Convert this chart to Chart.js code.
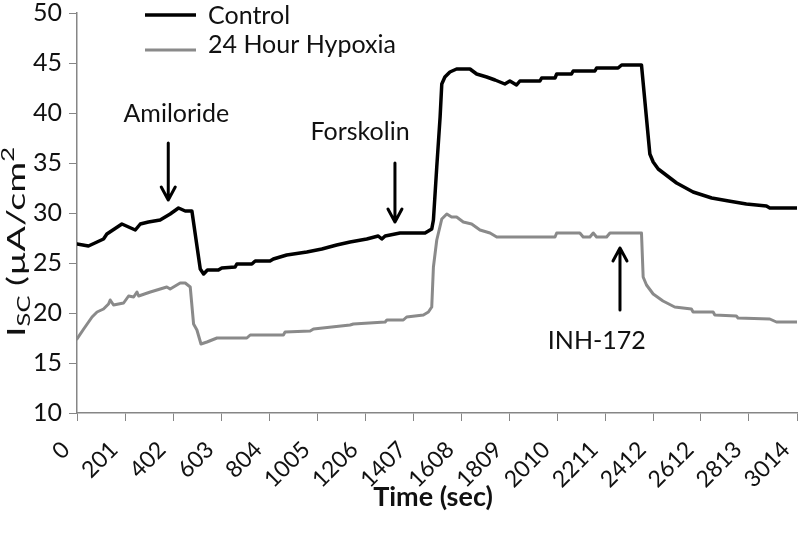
<!DOCTYPE html>
<html>
<head>
<meta charset="utf-8">
<script src="https://cdn.jsdelivr.net/npm/chart.js@4/dist/chart.umd.min.js"></script>
<style>
  html, body { margin: 0; padding: 0; background: #fff; }
  #chart { display: block; }
</style>
</head>
<body>
<canvas id="chart" width="800" height="547"></canvas>
<script>
// values
const xTickLabels = [0, 201, 402, 603, 804, 1005, 1206, 1407, 1608, 1809, 2010, 2211, 2412, 2612, 2813, 3014];

const controlTime = [0, 48, 111, 125, 188, 244, 265, 299, 348, 390, 425, 453, 481, 516, 530, 546, 592, 606, 662, 669,
  732, 746, 808, 822, 878, 962, 1025, 1087, 1143, 1213, 1261, 1276, 1290, 1352, 1457, 1485, 1492, 1506, 1520, 1527,
  1540, 1561, 1589, 1645, 1673, 1715, 1750, 1791, 1812, 1840, 1854, 1938, 1945, 2001, 2008, 2070, 2077, 2168, 2175,
  2265, 2280, 2363, 2398, 2412, 2433, 2510, 2579, 2657, 2728, 2802, 2886, 2900, 3014];
const controlValues = [26.9, 26.7, 27.4, 27.9, 28.9, 28.3, 28.9, 29.1, 29.3, 29.9, 30.5, 30.2, 30.2, 24.4, 23.9, 24.3, 24.3, 24.5, 24.6, 24.9,
  24.9, 25.2, 25.2, 25.4, 25.8, 26.1, 26.4, 26.8, 27.1, 27.4, 27.7, 27.4, 27.7, 28.0, 28.0, 28.4, 29.3, 34.6, 39.6, 42.9,
  43.6, 44.1, 44.4, 44.4, 43.9, 43.6, 43.3, 42.9, 43.2, 42.8, 43.2, 43.2, 43.5, 43.5, 43.9, 43.9, 44.2, 44.2, 44.5,
  44.5, 44.8, 44.8, 35.9, 35.1, 34.4, 33.0, 32.1, 31.5, 31.2, 30.9, 30.7, 30.5, 30.5];

const hypoxiaTime = [0, 28, 63, 84, 111, 132, 139, 153, 195, 216, 237, 251, 258, 307, 376, 390, 432, 453, 474, 488,
  502, 519, 544, 586, 711, 725, 864, 871, 976, 990, 1143, 1157, 1290, 1297, 1366, 1380, 1450, 1471, 1485, 1492,
  1506, 1527, 1548, 1568, 1589, 1617, 1652, 1687, 1729, 1757, 2001, 2008, 2105, 2119, 2147, 2161, 2175, 2217, 2231,
  2363, 2370, 2384, 2412, 2453, 2502, 2572, 2579, 2663, 2670, 2760, 2767, 2900, 2928, 3014];
const hypoxiaValues = [17.4, 18.4, 19.6, 20.1, 20.4, 20.9, 21.3, 20.8, 21.0, 21.7, 21.6, 22.1, 21.7, 22.1, 22.6, 22.4, 23.0, 23.0, 22.6, 18.9,
  18.3, 16.9, 17.1, 17.5, 17.5, 17.8, 17.8, 18.1, 18.2, 18.4, 18.8, 18.9, 19.1, 19.3, 19.3, 19.6, 19.8, 20.1, 20.6, 24.6,
  27.3, 29.4, 29.9, 29.6, 29.6, 29.1, 28.9, 28.3, 28.0, 27.6, 27.6, 28.0, 28.0, 27.6, 27.6, 28.0, 27.6, 27.6, 28.0,
  28.0, 23.6, 22.8, 21.9, 21.2, 20.6, 20.4, 20.1, 20.1, 19.8, 19.7, 19.5, 19.4, 19.1, 19.1];

// drug additions: arrow at time, from tail value to tip value, label placed at (labelTime, labelValue)
const markerNames = ['Amiloride', 'Forskolin', 'INH-172'];
const markerTimes = [382, 1331, 2273];
const markerTail = [37.0, 35.0, 20.3];
const markerTip = [31.3, 29.1, 26.5];
const markerLabelTime = [416, 1185, 2176];
const markerLabelValue = [39.9, 38.1, 17.2];

const FONT = 'Lato, "Liberation Sans", sans-serif';
const AXIS_GREY = '#868686';
const TEXT = '#111';

const annotations = {
  id: 'annotations',
  afterDatasetsDraw(chart) {
    const ctx = chart.ctx;
    const xs = chart.scales.x, ys = chart.scales.y;
    ctx.save();
    ctx.strokeStyle = '#000';
    ctx.lineWidth = 3;
    ctx.lineCap = 'round';
    ctx.lineJoin = 'round';
    ctx.fillStyle = TEXT;
    ctx.font = '25px ' + FONT;
    ctx.textAlign = 'center';
    ctx.textBaseline = 'middle';
    markerNames.forEach((name, i) => {
      const x = xs.getPixelForValue(markerTimes[i]);
      const y0 = ys.getPixelForValue(markerTail[i]);
      const y1 = ys.getPixelForValue(markerTip[i]);
      const dir = y1 > y0 ? 1 : -1;
      ctx.beginPath();
      ctx.moveTo(x, y0);
      ctx.lineTo(x, y1);
      ctx.moveTo(x - 7, y1 - dir * 13);
      ctx.lineTo(x, y1);
      ctx.lineTo(x + 7, y1 - dir * 13);
      ctx.stroke();
      ctx.fillText(name, xs.getPixelForValue(markerLabelTime[i]), ys.getPixelForValue(markerLabelValue[i]));
    });
    ctx.restore();
  }
};

const legendBox = {
  id: 'legendBox',
  afterDraw(chart) {
    const ctx = chart.ctx;
    const rows = [[15, 16], [50, 45]];
    ctx.save();
    ctx.font = '25px ' + FONT;
    ctx.textBaseline = 'middle';
    ctx.textAlign = 'left';
    chart.data.datasets.forEach((ds, i) => {
      ctx.strokeStyle = ds.borderColor;
      ctx.lineWidth = ds.borderWidth;
      ctx.beginPath();
      ctx.moveTo(145, rows[i][0]);
      ctx.lineTo(196, rows[i][0]);
      ctx.stroke();
      ctx.fillStyle = TEXT;
      ctx.fillText(ds.label, 208, rows[i][1]);
    });
    ctx.restore();
  }
};

const axisTitles = {
  id: 'axisTitles',
  afterDraw(chart) {
    const ctx = chart.ctx;
    ctx.save();
    ctx.fillStyle = TEXT;
    ctx.font = 'bold 27px ' + FONT;
    ctx.textAlign = 'center';
    ctx.textBaseline = 'middle';
    ctx.fillText('Time (sec)', 433, 497);

    const big = '25px ' + FONT, small = '17px ' + FONT;
    const parts = [['I', big, 0], ['SC', small, 5], [' (\u00B5A/cm', big, 0], ['2', small, -11]];
    let total = 0;
    parts.forEach(p => { ctx.font = p[1]; total += ctx.measureText(p[0]).width; });
    ctx.translate(25, 242);
    ctx.rotate(-Math.PI / 2);
    ctx.scale(190 / total, 1);
    ctx.textAlign = 'left';
    ctx.textBaseline = 'alphabetic';
    let x = -total / 2;
    parts.forEach(p => {
      ctx.font = p[1];
      ctx.fillText(p[0], x, p[2]);
      x += ctx.measureText(p[0]).width;
    });
    ctx.restore();
  }
};

new Chart(document.getElementById('chart'), {
  type: 'line',
  data: {
    datasets: [{
      label: 'Control',
      data: controlTime.map((t, i) => ({ x: t, y: controlValues[i] })),
      borderColor: '#000',
      borderWidth: 3.5,
      pointRadius: 0,
      tension: 0,
      borderJoinStyle: 'round',
      borderCapStyle: 'round'
    }, {
      label: '24 Hour Hypoxia',
      data: hypoxiaTime.map((t, i) => ({ x: t, y: hypoxiaValues[i] })),
      borderColor: '#8a8a8a',
      borderWidth: 3,
      pointRadius: 0,
      tension: 0,
      borderJoinStyle: 'round',
      borderCapStyle: 'round'
    }]
  },
  options: {
    responsive: false,
    animation: false,
    events: [],
    layout: { padding: { top: 13, right: 3, left: 0, bottom: 0 } },
    plugins: { legend: { display: false }, tooltip: { enabled: false } },
    scales: {
      x: {
        type: 'linear',
        min: 0,
        max: 3014,
        afterBuildTicks: scale => { scale.ticks = xTickLabels.map(v => ({ value: v })); },
        afterFit: scale => { scale.height = 134; scale.paddingLeft = 0; scale.paddingRight = 0; },
        grid: { drawOnChartArea: false, color: AXIS_GREY, tickLength: 8 },
        border: { color: AXIS_GREY, width: 1.5 },
        ticks: {
          autoSkip: false,
          minRotation: 45,
          maxRotation: 45,
          padding: 15,
          labelOffset: -11,
          color: TEXT,
          font: { family: FONT, size: 23 },
          callback: v => String(v)
        }
      },
      y: {
        min: 10,
        max: 50,
        afterFit: scale => { scale.width = 77; scale.paddingTop = 0; scale.paddingBottom = 0; },
        grid: { drawOnChartArea: false, color: AXIS_GREY, tickLength: 8 },
        border: { color: AXIS_GREY, width: 1.5 },
        ticks: {
          stepSize: 5,
          padding: 7,
          color: TEXT,
          font: { family: FONT, size: 25 },
          callback: v => String(v)
        }
      }
    }
  },
  plugins: [annotations, legendBox, axisTitles]
});
</script>
</body>
</html>
